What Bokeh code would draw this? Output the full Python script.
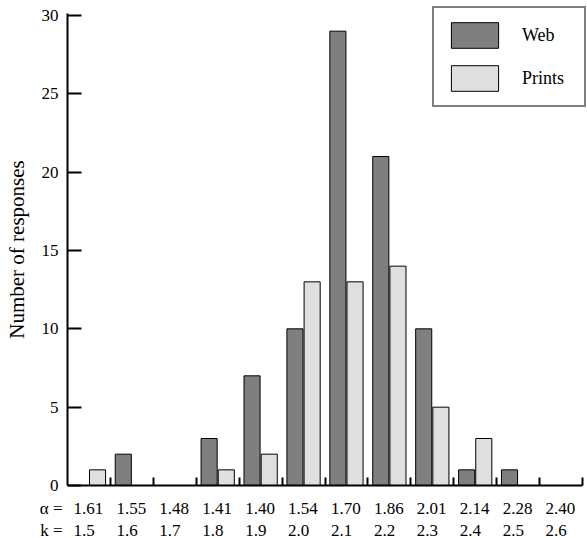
from bokeh.plotting import figure
from bokeh.models import (ColumnDataSource, Range1d, FixedTicker, LinearAxis,
                          Legend, LegendItem)
from bokeh.core.properties import value
from bokeh.embed import file_html
from bokeh.resources import INLINE

# ---- data ----
k_labels = ["1.5", "1.6", "1.7", "1.8", "1.9", "2.0", "2.1", "2.2", "2.3", "2.4", "2.5", "2.6"]
alpha_labels = ["1.61", "1.55", "1.48", "1.41", "1.40", "1.54", "1.70", "1.86", "2.01", "2.14", "2.28", "2.40"]
web = [0, 2, 0, 3, 7, 10, 29, 21, 10, 1, 1, 0]
prints = [1, 0, 0, 1, 2, 13, 13, 14, 5, 3, 0, 0]
y_ticks = [0, 5, 10, 15, 20, 25, 30]

FONT = "Liberation Serif"
WEB_COLOR = "#7f7f7f"
PRINT_COLOR = "#dfdfdf"
LABEL_SIZE = "17px"

W, H = 587, 538
n = len(k_labels)
idx = list(range(n))

# layout (pixels) -> data scale
X0, X1 = 67, 582        # x axis extent
Y0, YT = 485, 15        # baseline, y=30
PX = (X1 - X0) / n
PY = (Y0 - YT) / 30.0

src = ColumnDataSource(dict(
    xw=[i + 0.30 for i in idx],
    xp=[i + 0.70 for i in idx],
    web=web,
    prints=prints,
))

p = figure(width=W, height=H, output_backend="svg", toolbar_location=None,
           x_range=Range1d(-X0 / PX, (W - X0) / PX),
           y_range=Range1d(-(H - Y0) / PY, Y0 / PY), title=None,
           x_axis_location=None, y_axis_location=None,
           min_border=0)
p.outline_line_color = None
p.xgrid.visible = False
p.ygrid.visible = False
p.background_fill_color = "white"
p.border_fill_color = "white"

rw = p.vbar(x="xw", top="web", width=0.375, bottom=0, source=src,
            fill_color=WEB_COLOR, line_color="black", line_width=1)
rp = p.vbar(x="xp", top="prints", width=0.375, bottom=0, source=src,
            fill_color=PRINT_COLOR, line_color="black", line_width=1)

# y axis at x=0
ya = LinearAxis(fixed_location=0, bounds=(0, 30 + 2 / PY))
ya.ticker = FixedTicker(ticks=y_ticks)
ya.minor_tick_line_color = None
ya.major_tick_in = 14
ya.major_tick_out = 0
ya.major_tick_line_width = 2
ya.axis_line_width = 2
ya.major_label_standoff = 9
ya.major_label_text_font = FONT
ya.major_label_text_font_size = LABEL_SIZE
ya.major_label_text_color = "black"
ya.axis_label = "Number of responses"
ya.axis_label_text_font = FONT
ya.axis_label_text_font_size = "21px"
ya.axis_label_text_font_style = "normal"
ya.axis_label_text_color = "black"
ya.axis_label_standoff = 10
p.add_layout(ya, "left")

# x axis at y=0: boundary ticks, no labels
xa = LinearAxis(fixed_location=0, bounds=(0, n))
xa.ticker = FixedTicker(ticks=[i + 1 for i in idx])
xa.minor_tick_line_color = None
xa.major_tick_in = 8
xa.major_tick_out = 0
xa.major_tick_line_width = 2
xa.axis_line_width = 2
xa.major_label_text_font_size = "0px"
xa.major_label_text_alpha = 0
p.add_layout(xa, "below")

# category labels under the axis
lab_src = ColumnDataSource(dict(
    x=[i + 0.14 for i in idx],
    ya=[-22.5 / PY] * n,
    yk=[-44.5 / PY] * n,
    alpha=alpha_labels,
    k=k_labels,
))
p.text(x="x", y="ya", text="alpha", source=lab_src,
       text_font=value(FONT), text_font_size=LABEL_SIZE, text_color="black",
       text_align="left", text_baseline="middle")
p.text(x="x", y="yk", text="k", source=lab_src,
       text_font=value(FONT), text_font_size=LABEL_SIZE, text_color="black",
       text_align="left", text_baseline="middle")
row_src = ColumnDataSource(dict(x=[-5 / PX, -5 / PX], y=[-22.5 / PY, -44.5 / PY],
                                t=["α =", "k ="]))
p.text(x="x", y="y", text="t", source=row_src,
       text_font=value(FONT), text_font_size=LABEL_SIZE, text_color="black",
       text_align="right", text_baseline="middle")

legend = Legend(items=[LegendItem(label="Web", renderers=[rw]),
                       LegendItem(label="Prints", renderers=[rp])],
                location=(432, H - 107))
legend.border_line_color = "black"
legend.border_line_width = 2
legend.background_fill_color = "white"
legend.background_fill_alpha = 1
legend.padding = 11
legend.spacing = 11
legend.margin = 0
legend.glyph_width = 59
legend.glyph_height = 32
legend.label_standoff = 18
legend.label_width = 51
legend.label_text_font = FONT
legend.label_text_font_size = "18px"
legend.label_text_color = "black"
p.add_layout(legend, "center")

open("out.html", "w").write(file_html(p, INLINE))
